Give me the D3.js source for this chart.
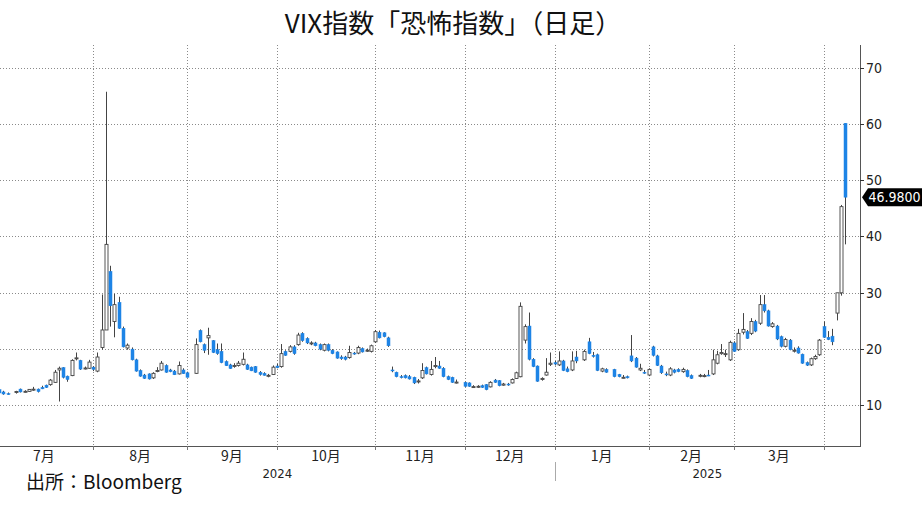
<!DOCTYPE html>
<html><head><meta charset="utf-8">
<script src="https://cdn.jsdelivr.net/npm/d3@7"></script>
<style>body{margin:0;background:#fff}svg{display:block}</style>
</head><body>
<svg id="c" width="922" height="505"></svg>
<script>
const title = "VIX指数「恐怖指数」（日足）";
const source = "出所：Bloomberg";
const yTicks = [10,20,30,40,50,60,70];
const monthLabels = ["7月","8月","9月","10月","11月","12月","1月","2月","3月"];
const yearLabels = ["2024","2025"];
const lastLabel = "46.9800";

const dates = [
"2024-07-01","2024-07-02","2024-07-03","2024-07-05","2024-07-08","2024-07-09","2024-07-10","2024-07-11","2024-07-12","2024-07-15","2024-07-16","2024-07-17","2024-07-18","2024-07-19","2024-07-22","2024-07-23","2024-07-24","2024-07-25","2024-07-26","2024-07-29","2024-07-30","2024-07-31",
"2024-08-01","2024-08-02","2024-08-05","2024-08-06","2024-08-07","2024-08-08","2024-08-09","2024-08-12","2024-08-13","2024-08-14","2024-08-15","2024-08-16","2024-08-19","2024-08-20","2024-08-21","2024-08-22","2024-08-23","2024-08-26","2024-08-27","2024-08-28","2024-08-29","2024-08-30",
"2024-09-03","2024-09-04","2024-09-05","2024-09-06","2024-09-09","2024-09-10","2024-09-11","2024-09-12","2024-09-13","2024-09-16","2024-09-17","2024-09-18","2024-09-19","2024-09-20","2024-09-23","2024-09-24","2024-09-25","2024-09-26","2024-09-27","2024-09-30",
"2024-10-01","2024-10-02","2024-10-03","2024-10-04","2024-10-07","2024-10-08","2024-10-09","2024-10-10","2024-10-11","2024-10-14","2024-10-15","2024-10-16","2024-10-17","2024-10-18","2024-10-21","2024-10-22","2024-10-23","2024-10-24","2024-10-25","2024-10-28","2024-10-29","2024-10-30","2024-10-31",
"2024-11-01","2024-11-04","2024-11-05","2024-11-06","2024-11-07","2024-11-08","2024-11-11","2024-11-12","2024-11-13","2024-11-14","2024-11-15","2024-11-18","2024-11-19","2024-11-20","2024-11-21","2024-11-22","2024-11-25","2024-11-26","2024-11-27","2024-11-29",
"2024-12-02","2024-12-03","2024-12-04","2024-12-05","2024-12-06","2024-12-09","2024-12-10","2024-12-11","2024-12-12","2024-12-13","2024-12-16","2024-12-17","2024-12-18","2024-12-19","2024-12-20","2024-12-23","2024-12-24","2024-12-26","2024-12-27","2024-12-30","2024-12-31",
"2025-01-02","2025-01-03","2025-01-06","2025-01-07","2025-01-08","2025-01-10","2025-01-13","2025-01-14","2025-01-15","2025-01-16","2025-01-17","2025-01-21","2025-01-22","2025-01-23","2025-01-24","2025-01-27","2025-01-28","2025-01-29","2025-01-30","2025-01-31",
"2025-02-03","2025-02-04","2025-02-05","2025-02-06","2025-02-07","2025-02-10","2025-02-11","2025-02-12","2025-02-13","2025-02-14","2025-02-18","2025-02-19","2025-02-20","2025-02-21","2025-02-24","2025-02-25","2025-02-26","2025-02-27","2025-02-28",
"2025-03-03","2025-03-04","2025-03-05","2025-03-06","2025-03-07","2025-03-10","2025-03-11","2025-03-12","2025-03-13","2025-03-14","2025-03-17","2025-03-18","2025-03-19","2025-03-20","2025-03-21","2025-03-24","2025-03-25","2025-03-26","2025-03-27","2025-03-28","2025-03-31",
"2025-04-01","2025-04-02","2025-04-03","2025-04-04","2025-04-07"];

const opens = [
12.8,12.4,12.1,12.3,12.9,12.5,12.5,12.8,12.9,13.2,13.6,13.7,14.1,16.3,16.7,15.2,15.3,18.3,18.0,16.6,16.6,16.8,
16.1,20.3,23.4,33.8,24.9,28.3,23.7,20.2,20.0,18.1,16.2,15.4,15.6,14.9,16.1,16.3,17.1,16.3,16.1,15.6,16.3,15.8,
15.7,23.3,20.8,22.0,21.5,19.9,19.6,17.8,17.2,17.0,17.1,17.3,17.2,16.8,16.9,15.9,15.7,15.3,15.5,17.0,
16.9,19.6,19.6,20.4,20.8,22.8,21.9,21.0,21.1,20.8,19.8,20.8,19.8,19.5,18.6,18.6,18.5,19.3,19.3,20.1,19.8,19.6,21.3,
23.0,22.9,22.0,16.3,15.9,15.1,15.3,15.1,15.0,14.3,14.9,16.7,15.5,16.9,17.0,16.6,15.1,15.0,14.1,14.1,
14.0,13.3,13.3,13.5,13.7,13.3,14.5,14.4,13.6,13.8,14.0,14.8,15.1,21.6,24.1,18.2,17.0,14.6,15.4,17.3,17.6,
17.2,17.9,16.5,16.3,18.6,18.1,21.3,18.9,19.0,16.1,16.4,16.4,15.5,15.0,15.1,18.8,18.4,16.3,15.9,15.4,
20.4,18.8,17.0,15.6,15.4,16.3,16.4,16.0,16.2,15.3,15.3,15.3,15.4,15.6,17.5,19.2,19.1,18.1,21.1,
19.9,23.0,23.1,22.8,24.9,24.6,27.9,26.8,24.0,24.1,22.2,20.5,21.6,19.7,20.2,19.1,17.6,17.2,18.3,19.0,24.0,
22.1,22.3,26.4,30.0,60.1];

const highs = [
13.0,12.6,12.3,12.6,13.0,12.7,12.9,13.3,13.0,13.5,13.7,14.7,16.3,16.9,16.8,15.3,18.2,19.4,18.1,16.9,18.1,17.0,
19.4,29.7,65.7,34.8,29.8,29.3,24.0,21.0,20.3,18.3,16.4,15.6,15.7,15.9,16.8,17.9,17.3,16.5,16.3,17.8,16.6,16.0,
21.9,23.5,21.0,23.8,21.6,21.0,21.0,18.0,17.4,17.5,17.9,19.4,17.4,16.9,17.0,16.1,15.9,15.6,17.1,17.4,
20.9,19.8,20.7,20.7,22.9,23.0,22.1,21.4,21.3,21.0,21.0,21.0,20.0,19.6,18.9,18.8,20.6,19.5,20.6,20.3,20.1,20.8,23.4,
23.3,23.0,22.2,16.9,16.0,15.4,15.5,15.4,15.1,14.7,17.5,16.9,17.9,18.6,17.9,16.8,15.3,15.1,14.6,14.2,
14.1,13.6,13.6,13.7,13.8,14.3,14.7,14.5,14.0,14.0,14.8,16.0,28.3,24.4,26.5,18.4,17.1,15.0,18.4,19.4,17.9,
19.6,18.1,16.9,19.6,19.7,19.9,22.0,19.5,19.2,16.7,16.6,16.5,15.6,15.4,15.3,22.5,18.6,17.4,16.3,16.6,
20.6,19.0,17.2,16.0,16.8,16.5,16.6,16.7,16.4,15.5,15.6,15.6,16.3,19.9,19.7,20.9,19.9,21.5,21.4,
23.6,26.4,23.4,25.5,25.2,29.6,29.6,27.0,24.8,24.3,22.4,22.0,21.8,20.3,20.5,19.2,17.8,18.5,19.0,21.8,24.9,
23.2,23.6,30.0,45.6,60.1];

const lows = [
12.1,11.9,11.9,12.1,12.3,12.3,12.4,12.6,12.3,12.9,13.1,13.5,14.0,10.7,14.8,14.2,15.2,18.0,16.3,16.4,16.5,16.1,
15.9,19.9,23.4,24.0,22.1,23.6,20.3,19.9,18.0,16.0,15.1,14.7,14.6,14.7,15.9,16.2,15.8,15.9,15.4,15.5,15.6,15.0,
15.6,21.2,19.3,19.0,19.3,19.0,17.5,17.0,16.5,16.7,16.9,17.1,16.3,16.1,15.8,15.3,15.3,15.0,15.4,16.6,
16.7,18.8,19.4,19.0,20.6,21.3,20.9,20.7,20.5,19.8,19.6,19.6,19.1,18.3,18.1,18.0,18.3,19.0,19.1,19.4,19.5,19.4,21.1,
21.9,22.1,20.4,15.9,15.0,14.8,14.8,14.6,13.8,13.9,14.7,15.5,15.3,16.6,16.5,15.0,14.5,14.0,13.9,13.3,
13.3,13.1,13.1,13.1,12.7,13.2,14.0,13.4,13.5,13.5,13.9,14.7,15.0,21.0,18.0,16.8,14.2,14.4,15.3,17.0,17.1,
17.0,16.1,15.9,16.1,17.5,17.9,19.1,18.5,16.1,15.9,15.8,15.0,15.0,14.8,14.8,17.7,16.7,16.1,15.6,15.2,
18.7,17.0,15.6,15.2,15.2,15.7,15.9,15.8,15.0,14.7,15.0,15.0,15.2,15.4,17.3,19.0,18.6,17.9,19.5,
19.7,22.6,21.8,22.5,23.0,24.3,26.5,24.0,23.8,21.6,20.3,20.3,19.8,19.4,19.2,17.4,17.0,17.0,18.1,18.8,22.0,
21.6,20.7,25.1,29.5,38.6];

const closes = [
12.22,12.03,12.09,12.48,12.4,12.51,12.85,12.89,12.46,12.95,13.2,14.5,15.9,16.6,15.0,14.6,18.0,18.45,16.45,16.65,17.7,16.4,
18.6,23.4,38.6,27.7,27.9,23.7,20.4,20.7,18.1,16.1,15.2,14.8,14.7,15.7,16.2,17.5,15.9,16.0,15.45,17.1,15.65,15.0,
20.8,21.3,19.8,22.4,19.4,19.2,17.6,17.05,16.55,17.1,17.5,18.2,16.4,16.15,15.9,15.5,15.35,15.35,16.8,16.7,
19.2,18.9,20.4,19.2,22.5,21.5,21.1,21.1,20.6,20.0,20.8,19.8,19.2,18.4,18.3,18.2,19.4,19.2,20.3,19.5,19.8,20.6,23.1,
22.0,22.2,20.6,16.2,15.1,15.0,14.9,14.7,14.0,14.35,16.2,15.6,16.4,17.1,16.6,15.1,14.6,14.1,14.15,13.4,
13.4,13.35,13.4,13.2,12.8,14.1,14.1,13.5,13.8,13.7,14.6,15.8,27.6,24.0,18.2,16.9,14.3,14.8,15.9,17.5,17.35,
17.9,16.2,16.0,17.9,17.9,19.6,19.2,18.7,16.2,16.5,15.9,15.1,15.1,15.0,14.9,17.9,16.8,16.6,15.85,16.4,
18.9,17.1,15.8,15.5,16.5,15.9,16.0,16.4,15.1,14.8,15.35,15.3,15.35,18.1,19.0,19.4,19.2,21.2,19.6,
22.8,23.5,21.9,24.9,23.2,27.9,26.8,24.1,24.5,21.8,20.5,21.7,19.9,19.8,19.3,17.5,17.15,18.3,18.7,21.6,22.1,
21.7,21.3,30.0,45.3,46.98];

// ---------------------------------------------------------------
const svg = d3.select("#c");
const W = 922, H = 505;
const plot = {left: 0, right: 860, top: 45, bottom: 446};
const fmt = d3.timeFormat("%Y-%m-%d");

// Bloomberg-style weekday axis (Dec 25 / Jan 1 dropped)
const slots = d3.timeDay.range(new Date(2024,6,1), new Date(2025,3,11))
  .filter(d => d.getDay() !== 0 && d.getDay() !== 6)
  .filter(d => !((d.getMonth() === 11 && d.getDate() === 25) || (d.getMonth() === 0 && d.getDate() === 1)))
  .map(fmt);

const x = d3.scaleBand().domain(slots).range([-3, plot.right]);
const cx = k => x(k) + x.bandwidth() / 2;
const y = d3.scaleLinear().domain([2.8, 74]).range([plot.bottom, plot.top]);

const data = dates.map((d, i) => ({date: d, o: opens[i], h: highs[i], l: lows[i], c: closes[i]}));

svg.append("rect").attr("width", W).attr("height", H).attr("fill", "#fff");

// title
svg.append("text").attr("x", 453).attr("y", 33).attr("text-anchor", "middle")
  .attr("font-family", "'Noto Sans CJK JP'").attr("font-size", 26).attr("fill", "#111")
  .text(title);

// month boundaries = last slot of each month
const monthGroups = d3.groups(slots, s => s.slice(0,7));
const boundaries = monthGroups.slice(0, -1).map(g => cx(g[1][g[1].length - 1]));

// gridlines
const grid = svg.append("g");
grid.selectAll("line.h").data(yTicks).join("line")
  .attr("x1", plot.left).attr("x2", plot.right)
  .attr("y1", d => Math.round(y(d)) + 0.5).attr("y2", d => Math.round(y(d)) + 0.5)
  .attr("stroke", "#8a8a8a").attr("stroke-dasharray", "1,2");
grid.selectAll("line.v").data(boundaries).join("line")
  .attr("x1", d => Math.round(d) + 0.5).attr("x2", d => Math.round(d) + 0.5)
  .attr("y1", plot.top).attr("y2", plot.bottom)
  .attr("stroke", "#8a8a8a").attr("stroke-dasharray", "1,2");

// candles
svg.append("clipPath").attr("id", "pc").append("rect")
  .attr("x", plot.left).attr("y", plot.top).attr("width", plot.right - plot.left).attr("height", plot.bottom - plot.top);
const cg = svg.append("g").attr("clip-path", "url(#pc)");
const bw = 3;
const blue = "#1e84e6";
const candles = cg.selectAll("g").data(data).join("g");
candles.append("line")
  .attr("x1", d => Math.round(cx(d.date)) + 0.5).attr("x2", d => Math.round(cx(d.date)) + 0.5)
  .attr("y1", d => y(d.h)).attr("y2", d => y(d.l))
  .attr("stroke", "#444").attr("stroke-width", 1);
candles.append("rect")
  .attr("x", d => Math.round(cx(d.date)) - 1)
  .attr("width", bw)
  .attr("y", d => y(Math.max(d.o, d.c)))
  .attr("height", d => Math.max(1, y(Math.min(d.o, d.c)) - y(Math.max(d.o, d.c))))
  .attr("fill", d => d.c >= d.o ? "#fff" : blue)
  .attr("stroke", d => d.c >= d.o ? "#444" : blue)
  .attr("stroke-width", d => d.c >= d.o ? 0.9 : 0.5);

// x axis
svg.append("line").attr("x1", plot.left).attr("x2", plot.right)
  .attr("y1", plot.bottom + 0.5).attr("y2", plot.bottom + 0.5).attr("stroke", "#555");
svg.selectAll("line.xt").data(boundaries).join("line")
  .attr("x1", d => Math.round(d) + 0.5).attr("x2", d => Math.round(d) + 0.5)
  .attr("y1", plot.bottom).attr("y2", plot.bottom + 4).attr("stroke", "#777");

// month labels: midpoint between previous boundary and this month's end
const monthEnds = monthGroups.map(g => cx(g[1][g[1].length - 1]));
const firstStart = cx(slots[0]) - x.step();
const labelPos = monthLabels.map((m, i) => ((i === 0 ? firstStart : monthEnds[i - 1]) + monthEnds[i]) / 2);
svg.selectAll("text.m").data(monthLabels).join("text")
  .attr("x", (d, i) => labelPos[i]).attr("y", 461).attr("text-anchor", "middle")
  .attr("font-family", "'Noto Sans CJK JP'").attr("font-size", 14).attr("fill", "#222")
  .text(d => d);

// year labels & separator
const janStart = monthEnds[5];
svg.append("line").attr("x1", Math.round(janStart) + 0.5).attr("x2", Math.round(janStart) + 0.5)
  .attr("y1", 462).attr("y2", 481).attr("stroke", "#aaa");
const yearPos = [(plot.left + janStart) / 2, (janStart + plot.right) / 2];
svg.selectAll("text.y").data(yearLabels).join("text")
  .attr("x", (d, i) => yearPos[i]).attr("y", 478).attr("text-anchor", "middle")
  .attr("font-family", "'DejaVu Sans Condensed', 'DejaVu Sans'").attr("font-size", 13).attr("fill", "#222")
  .text(d => d);

// right axis
svg.append("line").attr("x1", plot.right + 0.5).attr("x2", plot.right + 0.5)
  .attr("y1", plot.top).attr("y2", plot.bottom + 1).attr("stroke", "#555");
svg.selectAll("line.yt").data(yTicks).join("line")
  .attr("x1", plot.right).attr("x2", plot.right + 4)
  .attr("y1", d => Math.round(y(d)) + 0.5).attr("y2", d => Math.round(y(d)) + 0.5)
  .attr("stroke", "#333");
svg.selectAll("text.yl").data(yTicks).join("text")
  .attr("x", plot.right + 6).attr("y", d => y(d) + 5)
  .attr("font-family", "'DejaVu Sans Condensed', 'DejaVu Sans'").attr("font-size", 14).attr("fill", "#222")
  .text(d => d);

// last value tag
const last = data[data.length - 1];
const ly = y(last.c);
svg.append("path")
  .attr("d", `M${plot.right + 2},${ly} L${plot.right + 8},${ly - 9} L${W},${ly - 9} L${W},${ly + 9} L${plot.right + 8},${ly + 9} Z`)
  .attr("fill", "#000");
svg.append("text").attr("x", plot.right + 8.5).attr("y", ly + 5)
  .attr("font-family", "'DejaVu Sans Condensed', 'DejaVu Sans'").attr("font-size", 14).attr("fill", "#fff")
  .text(lastLabel);

// source
svg.append("text").attr("x", 26).attr("y", 489)
  .attr("font-family", "'Noto Sans CJK JP'").attr("font-size", 19).attr("fill", "#111")
  .text(source);
</script>
</body></html>
